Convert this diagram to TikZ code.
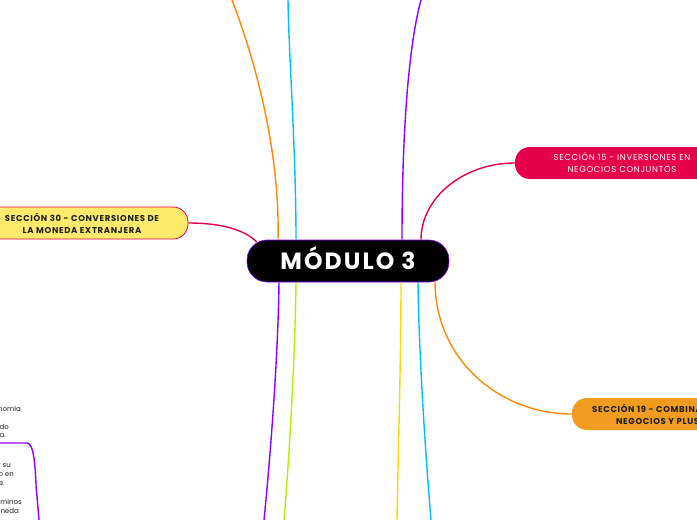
\documentclass[tikz,border=0pt]{standalone}
\usepackage{fontspec}
\setmainfont{Poppins}
\usepackage{tikz}
\usetikzlibrary{calc}

\definecolor{crimson}{HTML}{E6004C}
\definecolor{sunny}{HTML}{FFEB6B}
\definecolor{amber}{HTML}{F29C1F}
\definecolor{orangeline}{HTML}{FF8A00}
\definecolor{cyanline}{HTML}{00C3F5}
\definecolor{purpleline}{HTML}{9000FF}
\definecolor{limeline}{HTML}{B4F000}
\definecolor{yellowline}{HTML}{FFD800}
\definecolor{inkdark}{HTML}{1E1E1E}

\begin{document}
\begin{tikzpicture}[x=1pt, y=-1pt,
    topic/.style={shape=rectangle, rounded corners=15pt, minimum height=32pt, inner sep=0pt, align=center, font=\fontsize{8.5}{12}\selectfont\addfontfeature{LetterSpace=8}},
    boldtopic/.style={topic, font=\bfseries\fontsize{8.5}{12}\selectfont\addfontfeature{LetterSpace=8}},
    link/.style={line width=1.4pt},
    note/.style={anchor=east, inner sep=0pt, text=inkdark, font=\fontsize{7}{7}\selectfont}]
    \useasboundingbox (0,0) rectangle (697,520);
    \clip (0,0) rectangle (697,520);
    \fill[white] (0,0) rectangle (697,520);

    \node[shape=rectangle, rounded corners=20pt, fill=black, draw=purpleline, line width=0.6pt, minimum width=202pt, minimum height=42pt, text height=16.5pt, text depth=0pt, text=white, font=\bfseries\fontsize{23.5}{23.5}\selectfont\addfontfeature{LetterSpace=9}] (m3) at (348,261) {MÓDULO 3};

    \node[boldtopic, fill=sunny, draw=crimson, line width=0.8pt, minimum width=212pt, text=inkdark] (s30) at (82,223) {SECCIÓN 30 - CONVERSIONES DE\\LA MONEDA EXTRANJERA};
    \node[topic, fill=crimson, minimum width=214pt, text=white] (s15) at (622,163) {SECCIÓN 15 - INVERSIONES EN\\NEGOCIOS CONJUNTOS};
    \node[boldtopic, fill=amber, minimum width=200pt, text=inkdark] (s19) at (672,414) {SECCIÓN 19 - COMBINACIONES DE\\NEGOCIOS Y PLUSVALÍA};

    % ends that leave the page
    \coordinate (up1) at (232,0);
    \coordinate (up2) at (288,0);
    \coordinate (up3) at (421,0);
    \coordinate (dn1) at (264,520);
    \coordinate (dn2) at (284,520);
    \coordinate (dn3) at (397,520);
    \coordinate (dn4) at (431,520);
    \coordinate (lf1) at (0,443);
    \coordinate (lf2) at (39,520);

    \draw[link, crimson] (s30.east) .. controls (222,223) and (245,230) .. ($(m3.west)+(10,-19)$);
    \draw[link, crimson] ($(m3.north)+(73,0)$) .. controls (421,198) and (463,163) .. (s15.west);
    \draw[link, orangeline] ($(m3.south)+(87,-1)$) .. controls (435,360) and (500,414) .. (s19.west);

    \draw[link, orangeline] ($(m3.north)+(-70,0)$) .. controls (280,150) and (255,60) .. (up1);
    \draw[link, cyanline] ($(m3.north)+(-52,0)$) .. controls (296,150) and (289,60) .. (up2);
    \draw[link, purpleline] ($(m3.north)+(54,0)$) .. controls (402,120) and (410,40) .. (up3);

    \draw[link, purpleline] ($(m3.south)+(-69,0)$) .. controls (278,360) and (270,460) .. (dn1);
    \draw[link, limeline] ($(m3.south)+(-52,0)$) .. controls (295,360) and (289,460) .. (dn2);
    \draw[link, yellowline] ($(m3.south)+(53,0)$) .. controls (401,360) and (398,460) .. (dn3);
    \draw[link, cyanline] ($(m3.south)+(70,0)$) .. controls (419,360) and (426,460) .. (dn4);

    \draw[link, purpleline] (lf1) -- (27,443) .. controls (33,443) and (35,460) .. (36,485) -- (lf2);

    \node[note] (n1) at (21,409) {nomía};
    \node[note] (n2) at (9,427) {do};
    \node[note] (n3) at (6,436) {a.};
    \node[note] (n4) at (11,466) {r su};
    \node[note] (n5) at (14,475) {o en};
    \node[note] (n6) at (5,484) {e.};
    \node[note] (n7) at (22,502) {rminos};
    \node[note] (n8) at (19,511) {neda};
\end{tikzpicture}
\end{document}
